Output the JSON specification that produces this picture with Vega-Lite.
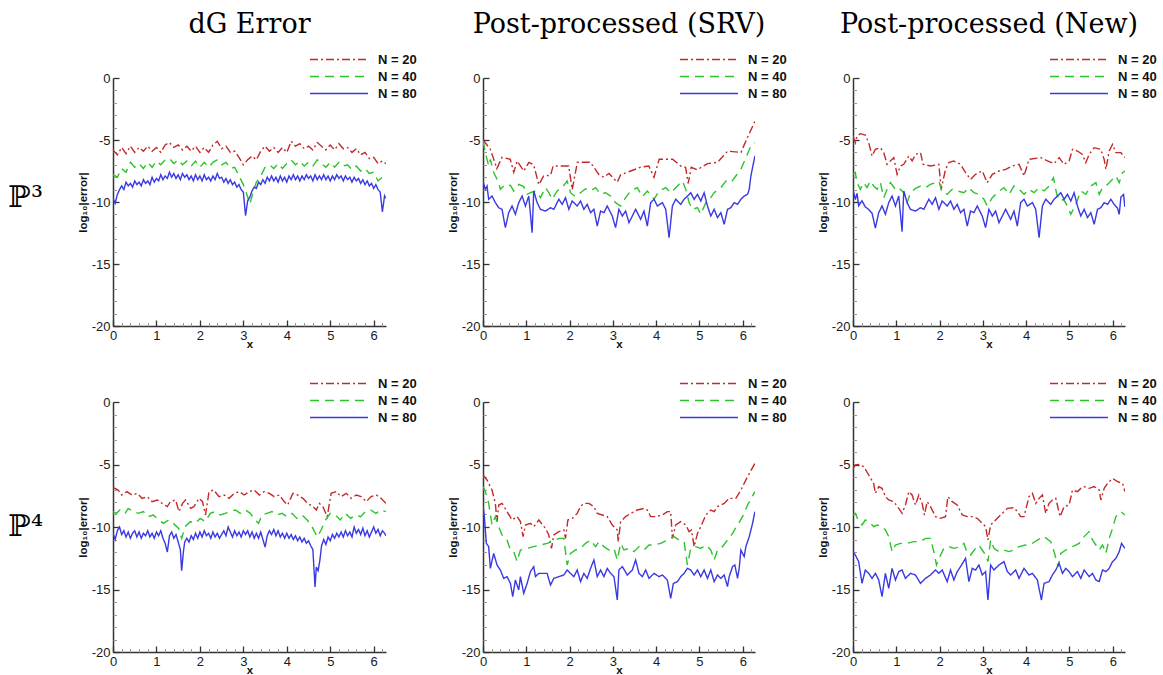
{
"$schema":"https://vega.github.io/schema/vega-lite/v6.json",
"background":"white",
"padding":{"left":8,"top":11,"right":0,"bottom":0},
"config":{
 "view":{"stroke":null},
 "axis":{"grid":false,"labelFont":"Liberation Sans","labelFontSize":13,"labelColor":"#1a1a1a","labelFlush":false,"labelPadding":9,"tickSize":-6,"tickWidth":1.3,"tickColor":"#333","domainColor":"#333","domainWidth":1.5,"titleFont":"Liberation Sans","titleFontSize":11.5,"titleFontWeight":"bold","titleColor":"#111"},
 "axisX":{"titlePadding":-4},
 "axisY":{"titlePadding":3},
 "legend":{"title":null,"symbolType":"stroke","symbolSize":3364,"symbolStrokeWidth":1.5,"clipHeight":13,"rowPadding":3,"labelOffset":9,"labelFont":"Liberation Sans","labelFontSize":13,"labelFontWeight":"bold","labelColor":"#111","padding":0},
 "title":{"font":"DejaVu Serif","fontSize":27,"fontWeight":"normal","color":"#000","offset":14},
 "concat":{"spacing":30}
},
"resolve":{"scale":{"color":"independent","strokeDash":"independent"},"legend":{"color":"independent","strokeDash":"independent"}},
"datasets":{
"p1":[
{"x":0,"N20":-5.8,"N40":-7.8,"N80":-9.7},{"x":0.05,"N80":-10.1},{"x":0.1,"N20":-6.2,"N40":-8.0,"N80":-9.4},{"x":0.15,"N80":-9.0},{"x":0.2,"N20":-5.6,"N40":-7.3,"N80":-8.7},{"x":0.25,"N80":-9.0},{"x":0.3,"N20":-6.1,"N40":-7.6,"N80":-8.4},{"x":0.35,"N80":-8.7},{"x":0.4,"N20":-5.5,"N40":-6.8,"N80":-8.5},{"x":0.45,"N80":-8.8},{"x":0.5,"N20":-6.0,"N40":-7.2,"N80":-8.3},{"x":0.55,"N80":-8.6},{"x":0.6,"N20":-5.6,"N40":-6.9,"N80":-8.4},{"x":0.65,"N80":-8.7},{"x":0.7,"N20":-5.9,"N40":-7.3,"N80":-8.2},{"x":0.75,"N80":-8.5},{"x":0.8,"N20":-5.5,"N40":-6.8,"N80":-8.3},{"x":0.85,"N80":-8.6},{"x":0.9,"N20":-5.9,"N40":-7.2,"N80":-8.0},{"x":0.95,"N80":-8.4},
{"x":1.0,"N20":-5.6,"N40":-6.7,"N80":-8.1},{"x":1.05,"N80":-8.3},{"x":1.1,"N20":-6.0,"N40":-7.0,"N80":-7.8},{"x":1.15,"N80":-8.2},{"x":1.2,"N20":-5.4,"N40":-6.6,"N80":-7.9},{"x":1.25,"N80":-8.1},{"x":1.3,"N20":-5.2,"N40":-6.5,"N80":-7.6},{"x":1.35,"N80":-8.0},{"x":1.4,"N20":-5.6,"N40":-6.9,"N80":-7.7},{"x":1.45,"N80":-8.1},{"x":1.5,"N20":-5.4,"N40":-6.6,"N80":-7.8},{"x":1.55,"N80":-8.2},{"x":1.6,"N20":-5.8,"N40":-7.0,"N80":-7.7},{"x":1.65,"N80":-8.0},{"x":1.7,"N20":-5.5,"N40":-6.7,"N80":-7.8},{"x":1.75,"N80":-8.2},{"x":1.8,"N20":-5.9,"N40":-7.1,"N80":-7.9},{"x":1.85,"N80":-8.3},{"x":1.9,"N20":-5.5,"N40":-6.7,"N80":-7.8},{"x":1.95,"N80":-8.2},
{"x":2.0,"N20":-6.0,"N40":-7.2,"N80":-7.9},{"x":2.05,"N80":-8.3},{"x":2.1,"N20":-5.6,"N40":-6.8,"N80":-7.8},{"x":2.15,"N80":-8.2},{"x":2.2,"N20":-6.0,"N40":-7.2,"N80":-8.0},{"x":2.25,"N80":-8.3},{"x":2.3,"N20":-5.4,"N40":-6.8,"N80":-7.9},{"x":2.35,"N80":-8.2},{"x":2.4,"N20":-5.1,"N40":-6.6,"N80":-7.7},{"x":2.45,"N80":-8.1},{"x":2.5,"N20":-5.7,"N40":-7.0,"N80":-8.0},{"x":2.55,"N80":-8.4},{"x":2.6,"N20":-5.5,"N40":-6.8,"N80":-8.1},{"x":2.65,"N80":-8.5},{"x":2.7,"N20":-6.0,"N40":-7.3,"N80":-8.2},{"x":2.75,"N80":-8.6},{"x":2.8,"N20":-5.9,"N40":-7.2,"N80":-8.4},{"x":2.85,"N80":-8.8},{"x":2.9,"N20":-6.4,"N40":-7.9,"N80":-8.6},{"x":2.95,"N80":-9.0},
{"x":3.0,"N20":-7.0,"N40":-8.6,"N80":-9.2},{"x":3.05,"N80":-11.1},{"x":3.1,"N20":-6.6,"N40":-9.6,"N80":-9.9},{"x":3.15,"N40":-10.2,"N80":-9.6},{"x":3.2,"N20":-6.3,"N40":-9.5,"N80":-9.1},{"x":3.25,"N80":-8.8},{"x":3.3,"N20":-6.6,"N40":-8.4,"N80":-8.9},{"x":3.35,"N80":-8.4},{"x":3.4,"N20":-5.9,"N40":-7.9,"N80":-8.6},{"x":3.45,"N80":-8.2},{"x":3.5,"N20":-5.5,"N40":-7.2,"N80":-8.5},{"x":3.55,"N80":-8.0},{"x":3.6,"N20":-5.9,"N40":-7.0,"N80":-8.3},{"x":3.65,"N80":-7.9},{"x":3.7,"N20":-5.6,"N40":-7.3,"N80":-8.3},{"x":3.75,"N80":-8.0},{"x":3.8,"N20":-6.0,"N40":-6.9,"N80":-8.4},{"x":3.85,"N80":-7.9},{"x":3.9,"N20":-5.6,"N40":-7.3,"N80":-8.3},{"x":3.95,"N80":-8.0},
{"x":4.0,"N20":-6.0,"N40":-6.9,"N80":-8.4},{"x":4.05,"N80":-7.9},{"x":4.1,"N20":-5.1,"N40":-6.6,"N80":-8.2},{"x":4.15,"N80":-7.8},{"x":4.2,"N20":-5.5,"N40":-7.0,"N80":-8.2},{"x":4.25,"N80":-7.9},{"x":4.3,"N20":-5.3,"N40":-6.7,"N80":-8.3},{"x":4.35,"N80":-7.9},{"x":4.4,"N20":-5.7,"N40":-7.1,"N80":-8.2},{"x":4.45,"N80":-7.8},{"x":4.5,"N20":-5.5,"N40":-6.8,"N80":-8.1},{"x":4.55,"N80":-7.9},{"x":4.6,"N20":-5.8,"N40":-7.1,"N80":-8.3},{"x":4.65,"N80":-7.8},{"x":4.7,"N20":-5.2,"N40":-6.6,"N80":-8.2},{"x":4.75,"N80":-7.9},{"x":4.8,"N20":-5.5,"N40":-6.9,"N80":-8.2},{"x":4.85,"N80":-7.8},{"x":4.9,"N20":-5.8,"N40":-7.2,"N80":-8.2},{"x":4.95,"N80":-7.9},
{"x":5.0,"N20":-5.4,"N40":-6.8,"N80":-8.3},{"x":5.05,"N80":-7.9},{"x":5.1,"N20":-5.8,"N40":-7.2,"N80":-8.2},{"x":5.15,"N80":-7.8},{"x":5.2,"N20":-5.3,"N40":-6.8,"N80":-8.1},{"x":5.25,"N80":-7.9},{"x":5.3,"N20":-5.7,"N40":-7.1,"N80":-8.3},{"x":5.35,"N80":-7.9},{"x":5.4,"N20":-5.6,"N40":-7.0,"N80":-8.2},{"x":5.45,"N80":-8.0},{"x":5.5,"N20":-6.0,"N40":-7.4,"N80":-8.4},{"x":5.55,"N80":-8.0},{"x":5.6,"N20":-5.7,"N40":-7.1,"N80":-8.3},{"x":5.65,"N80":-8.1},{"x":5.7,"N20":-6.2,"N40":-7.5,"N80":-8.5},{"x":5.75,"N80":-8.2},{"x":5.8,"N20":-6.0,"N40":-7.3,"N80":-8.6},{"x":5.85,"N80":-8.3},{"x":5.9,"N20":-6.5,"N40":-7.7,"N80":-8.7},{"x":5.95,"N80":-8.5},
{"x":6.0,"N20":-6.4,"N40":-7.6,"N80":-8.9},{"x":6.05,"N80":-8.6},{"x":6.1,"N20":-6.9,"N40":-8.3,"N80":-9.0},{"x":6.15,"N80":-9.2},{"x":6.2,"N20":-6.7,"N40":-8.0,"N80":-10.8},{"x":6.25,"N80":-9.5},{"x":6.28,"N20":-6.9,"N40":-8.2,"N80":-9.7}
],
"p2":[
{"x":0,"N20":-5.0},{"x":0.17,"N20":-5.75},{"x":0.32,"N20":-7.3},{"x":0.44,"N20":-6.4},{"x":0.63,"N20":-6.55},{"x":0.71,"N20":-7.6},{"x":0.79,"N20":-6.7},{"x":0.94,"N20":-7.5},{"x":1.06,"N20":-6.8},{"x":1.17,"N20":-7.0},{"x":1.29,"N20":-8.6},{"x":1.4,"N20":-7.9},{"x":1.56,"N20":-7.85},{"x":1.62,"N20":-7.1},{"x":1.98,"N20":-7.1},{"x":2.06,"N20":-9.0},{"x":2.18,"N20":-6.8},{"x":2.48,"N20":-6.8},{"x":2.68,"N20":-7.8},{"x":2.79,"N20":-8.0},{"x":2.91,"N20":-7.7},{"x":3.1,"N20":-8.4},{"x":3.18,"N20":-7.8},{"x":3.41,"N20":-7.5},{"x":3.64,"N20":-7.2},{"x":3.83,"N20":-7.1},{"x":3.95,"N20":-8.0},{"x":4.07,"N20":-6.55},{"x":4.38,"N20":-6.55},{"x":4.57,"N20":-7.1},{"x":4.68,"N20":-7.2},{"x":4.74,"N20":-8.5},{"x":4.81,"N20":-7.2},{"x":4.95,"N20":-7.4},{"x":5.19,"N20":-6.9},{"x":5.42,"N20":-6.8},{"x":5.65,"N20":-5.9},{"x":5.96,"N20":-6.0},{"x":6.07,"N20":-5.1},{"x":6.28,"N20":-3.5},
{"x":0,"N40":-5.08},{"x":0.054,"N40":-6.02},{"x":0.131,"N40":-7.1},{"x":0.17,"N40":-6.56},{"x":0.247,"N40":-7.63},{"x":0.363,"N40":-8.44},{"x":0.401,"N40":-8.98},{"x":0.517,"N40":-8.58},{"x":0.633,"N40":-8.66},{"x":0.71,"N40":-9.11},{"x":0.826,"N40":-8.58},{"x":0.941,"N40":-8.76},{"x":1.019,"N40":-9.38},{"x":1.096,"N40":-9.25},{"x":1.211,"N40":-9.11},{"x":1.327,"N40":-9.65},{"x":1.443,"N40":-8.84},{"x":1.52,"N40":-9.25},{"x":1.597,"N40":-9.78},{"x":1.713,"N40":-9.11},{"x":1.829,"N40":-8.84},{"x":1.944,"N40":-8.31},{"x":2.022,"N40":-9.25},{"x":2.137,"N40":-9.57},{"x":2.253,"N40":-9.25},{"x":2.369,"N40":-8.93},{"x":2.485,"N40":-9.11},{"x":2.6,"N40":-8.84},{"x":2.716,"N40":-9.38},{"x":2.832,"N40":-9.25},{"x":2.948,"N40":-9.52},{"x":3.063,"N40":-10.05},{"x":3.179,"N40":-10.32},{"x":3.295,"N40":-9.65},{"x":3.41,"N40":-9.11},{"x":3.565,"N40":-8.84},{"x":3.681,"N40":-9.57},{"x":3.796,"N40":-9.11},{"x":3.951,"N40":-9.78},{"x":4.066,"N40":-9.11},{"x":4.221,"N40":-8.84},{"x":4.336,"N40":-9.25},{"x":4.491,"N40":-8.71},{"x":4.606,"N40":-8.31},{"x":4.684,"N40":-8.98},{"x":4.761,"N40":-10.05},{"x":4.838,"N40":-10.59},{"x":4.954,"N40":-10.46},{"x":5.031,"N40":-10.99},{"x":5.147,"N40":-10.05},{"x":5.262,"N40":-9.65},{"x":5.34,"N40":-9.25},{"x":5.494,"N40":-8.84},{"x":5.61,"N40":-8.31},{"x":5.725,"N40":-8.44},{"x":5.841,"N40":-7.9},{"x":5.957,"N40":-7.37},{"x":6.073,"N40":-6.42},{"x":6.188,"N40":-5.48},{"x":6.281,"N40":-5.22},
{"x":0,"N80":-8.31},{"x":0.054,"N80":-8.98},{"x":0.093,"N80":-8.71},{"x":0.131,"N80":-9.78},{"x":0.208,"N80":-9.52},{"x":0.285,"N80":-10.05},{"x":0.363,"N80":-10.46},{"x":0.44,"N80":-10.59},{"x":0.517,"N80":-12.07},{"x":0.594,"N80":-10.86},{"x":0.671,"N80":-10.32},{"x":0.748,"N80":-10.99},{"x":0.826,"N80":-10.05},{"x":0.903,"N80":-9.52},{"x":0.98,"N80":-10.32},{"x":1.057,"N80":-9.52},{"x":1.134,"N80":-12.47},{"x":1.173,"N80":-9.11},{"x":1.25,"N80":-10.05},{"x":1.327,"N80":-10.59},{"x":1.443,"N80":-10.73},{"x":1.559,"N80":-10.46},{"x":1.636,"N80":-10.59},{"x":1.752,"N80":-9.78},{"x":1.829,"N80":-10.19},{"x":1.906,"N80":-9.65},{"x":1.983,"N80":-10.59},{"x":2.06,"N80":-9.92},{"x":2.176,"N80":-10.32},{"x":2.253,"N80":-9.92},{"x":2.33,"N80":-10.59},{"x":2.407,"N80":-10.19},{"x":2.485,"N80":-10.86},{"x":2.562,"N80":-10.59},{"x":2.639,"N80":-11.94},{"x":2.716,"N80":-10.73},{"x":2.793,"N80":-10.86},{"x":2.87,"N80":-10.32},{"x":2.986,"N80":-11.13},{"x":3.063,"N80":-12.07},{"x":3.14,"N80":-10.59},{"x":3.218,"N80":-11.13},{"x":3.295,"N80":-10.73},{"x":3.372,"N80":-11.67},{"x":3.449,"N80":-11.13},{"x":3.526,"N80":-10.59},{"x":3.642,"N80":-11.4},{"x":3.719,"N80":-10.73},{"x":3.796,"N80":-11.94},{"x":3.873,"N80":-10.05},{"x":3.951,"N80":-9.78},{"x":4.028,"N80":-10.32},{"x":4.144,"N80":-10.05},{"x":4.221,"N80":-10.59},{"x":4.298,"N80":-12.88},{"x":4.375,"N80":-10.32},{"x":4.452,"N80":-9.78},{"x":4.568,"N80":-10.19},{"x":4.645,"N80":-9.78},{"x":4.722,"N80":-9.52},{"x":4.799,"N80":-9.25},{"x":4.877,"N80":-9.78},{"x":4.954,"N80":-9.38},{"x":5.031,"N80":-9.92},{"x":5.108,"N80":-9.25},{"x":5.185,"N80":-10.32},{"x":5.262,"N80":-11.13},{"x":5.34,"N80":-10.59},{"x":5.417,"N80":-11.26},{"x":5.494,"N80":-10.86},{"x":5.571,"N80":-11.8},{"x":5.648,"N80":-10.59},{"x":5.725,"N80":-10.46},{"x":5.802,"N80":-10.05},{"x":5.88,"N80":-10.19},{"x":5.957,"N80":-9.78},{"x":6.034,"N80":-9.52},{"x":6.111,"N80":-9.38},{"x":6.15,"N80":-8.98},{"x":6.188,"N80":-7.9},{"x":6.281,"N80":-6.29}
],
"p3":[
{"x":0,"N20":-4.68},{"x":0.054,"N20":-5.22},{"x":0.093,"N20":-4.68},{"x":0.17,"N20":-4.49},{"x":0.285,"N20":-4.6},{"x":0.363,"N20":-5.22},{"x":0.44,"N20":-6.29},{"x":0.517,"N20":-5.75},{"x":0.633,"N20":-5.62},{"x":0.71,"N20":-6.02},{"x":0.787,"N20":-6.96},{"x":0.865,"N20":-6.69},{"x":0.941,"N20":-6.42},{"x":1.019,"N20":-7.77},{"x":1.096,"N20":-7.1},{"x":1.173,"N20":-6.96},{"x":1.289,"N20":-6.29},{"x":1.366,"N20":-6.69},{"x":1.443,"N20":-6.16},{"x":1.559,"N20":-6.02},{"x":1.62,"N20":-6.96},{"x":1.79,"N20":-7.1},{"x":1.983,"N20":-6.96},{"x":2.037,"N20":-8.98},{"x":2.137,"N20":-7.37},{"x":2.214,"N20":-6.83},{"x":2.33,"N20":-6.69},{"x":2.485,"N20":-6.96},{"x":2.6,"N20":-7.63},{"x":2.716,"N20":-8.17},{"x":2.832,"N20":-7.77},{"x":2.986,"N20":-7.5},{"x":3.1,"N20":-8.44},{"x":3.218,"N20":-7.77},{"x":3.372,"N20":-7.5},{"x":3.526,"N20":-7.37},{"x":3.681,"N20":-7.1},{"x":3.835,"N20":-6.96},{"x":3.951,"N20":-7.9},{"x":4.066,"N20":-6.56},{"x":4.336,"N20":-6.42},{"x":4.491,"N20":-6.69},{"x":4.645,"N20":-6.91},{"x":4.761,"N20":-6.42},{"x":4.877,"N20":-6.96},{"x":4.992,"N20":-6.69},{"x":5.07,"N20":-5.75},{"x":5.185,"N20":-5.89},{"x":5.3,"N20":-6.16},{"x":5.378,"N20":-6.83},{"x":5.455,"N20":-6.16},{"x":5.571,"N20":-5.62},{"x":5.725,"N20":-5.75},{"x":5.802,"N20":-6.56},{"x":5.841,"N20":-7.37},{"x":5.918,"N20":-5.89},{"x":5.995,"N20":-5.35},{"x":6.073,"N20":-6.02},{"x":6.188,"N20":-6.02},{"x":6.281,"N20":-6.42},
{"x":0,"N40":-7.77},{"x":0.054,"N40":-7.63},{"x":0.093,"N40":-8.44},{"x":0.17,"N40":-8.98},{"x":0.247,"N40":-8.44},{"x":0.324,"N40":-8.84},{"x":0.401,"N40":-8.31},{"x":0.478,"N40":-8.71},{"x":0.556,"N40":-8.98},{"x":0.633,"N40":-8.44},{"x":0.71,"N40":-9.65},{"x":0.787,"N40":-8.98},{"x":0.865,"N40":-8.44},{"x":0.98,"N40":-8.98},{"x":1.057,"N40":-8.84},{"x":1.173,"N40":-9.25},{"x":1.25,"N40":-10.05},{"x":1.327,"N40":-9.25},{"x":1.443,"N40":-8.9},{"x":1.559,"N40":-8.71},{"x":1.674,"N40":-8.84},{"x":1.79,"N40":-8.58},{"x":1.906,"N40":-8.44},{"x":1.983,"N40":-8.31},{"x":2.06,"N40":-9.25},{"x":2.176,"N40":-9.38},{"x":2.292,"N40":-8.98},{"x":2.407,"N40":-9.11},{"x":2.562,"N40":-9.25},{"x":2.677,"N40":-8.84},{"x":2.793,"N40":-9.25},{"x":2.909,"N40":-9.38},{"x":3.025,"N40":-9.78},{"x":3.1,"N40":-10.32},{"x":3.218,"N40":-9.65},{"x":3.333,"N40":-9.25},{"x":3.488,"N40":-8.84},{"x":3.603,"N40":-9.38},{"x":3.719,"N40":-8.71},{"x":3.835,"N40":-8.98},{"x":3.951,"N40":-9.38},{"x":4.066,"N40":-8.98},{"x":4.182,"N40":-9.25},{"x":4.298,"N40":-8.84},{"x":4.414,"N40":-9.11},{"x":4.529,"N40":-8.71},{"x":4.63,"N40":-8.04},{"x":4.707,"N40":-9.38},{"x":4.784,"N40":-9.92},{"x":4.861,"N40":-9.78},{"x":4.954,"N40":-10.32},{"x":5.031,"N40":-10.99},{"x":5.147,"N40":-10.19},{"x":5.262,"N40":-9.11},{"x":5.378,"N40":-9.38},{"x":5.494,"N40":-8.71},{"x":5.61,"N40":-8.44},{"x":5.687,"N40":-9.38},{"x":5.764,"N40":-8.84},{"x":5.88,"N40":-8.58},{"x":5.995,"N40":-8.17},{"x":6.073,"N40":-7.9},{"x":6.15,"N40":-8.44},{"x":6.227,"N40":-7.63},{"x":6.281,"N40":-7.5},
{"x":0,"N80":-9.0},{"x":0.054,"N80":-9.8},{"x":0.093,"N80":-9.3},{"x":0.131,"N80":-10.3},{"x":0.208,"N80":-9.9},{"x":0.285,"N80":-10.4},{"x":0.363,"N80":-10.6},{"x":0.44,"N80":-10.9},{"x":0.517,"N80":-12.1},{"x":0.594,"N80":-10.86},{"x":0.671,"N80":-10.32},{"x":0.748,"N80":-10.99},{"x":0.826,"N80":-10.05},{"x":0.903,"N80":-9.52},{"x":0.98,"N80":-10.32},{"x":1.057,"N80":-9.52},{"x":1.134,"N80":-12.4},{"x":1.173,"N80":-9.11},{"x":1.25,"N80":-10.05},{"x":1.327,"N80":-10.59},{"x":1.443,"N80":-10.73},{"x":1.559,"N80":-10.46},{"x":1.636,"N80":-10.59},{"x":1.752,"N80":-9.78},{"x":1.829,"N80":-10.19},{"x":1.906,"N80":-9.65},{"x":1.983,"N80":-10.59},{"x":2.06,"N80":-9.92},{"x":2.176,"N80":-10.32},{"x":2.253,"N80":-9.92},{"x":2.33,"N80":-10.59},{"x":2.407,"N80":-10.19},{"x":2.485,"N80":-10.86},{"x":2.562,"N80":-10.59},{"x":2.639,"N80":-11.94},{"x":2.716,"N80":-10.73},{"x":2.793,"N80":-10.86},{"x":2.87,"N80":-10.32},{"x":2.986,"N80":-11.13},{"x":3.063,"N80":-12.07},{"x":3.14,"N80":-10.59},{"x":3.218,"N80":-11.13},{"x":3.295,"N80":-10.73},{"x":3.372,"N80":-11.67},{"x":3.449,"N80":-11.13},{"x":3.526,"N80":-10.59},{"x":3.642,"N80":-11.4},{"x":3.719,"N80":-10.73},{"x":3.796,"N80":-11.94},{"x":3.873,"N80":-10.05},{"x":3.951,"N80":-9.78},{"x":4.028,"N80":-10.32},{"x":4.144,"N80":-10.05},{"x":4.221,"N80":-10.59},{"x":4.298,"N80":-12.88},{"x":4.375,"N80":-10.32},{"x":4.452,"N80":-9.78},{"x":4.568,"N80":-10.19},{"x":4.645,"N80":-9.78},{"x":4.722,"N80":-9.52},{"x":4.799,"N80":-9.25},{"x":4.877,"N80":-9.78},{"x":4.954,"N80":-9.38},{"x":5.031,"N80":-9.92},{"x":5.108,"N80":-9.25},{"x":5.185,"N80":-10.32},{"x":5.262,"N80":-11.13},{"x":5.34,"N80":-10.59},{"x":5.417,"N80":-11.26},{"x":5.494,"N80":-10.86},{"x":5.571,"N80":-11.8},{"x":5.648,"N80":-10.59},{"x":5.725,"N80":-10.46},{"x":5.802,"N80":-10.05},{"x":5.88,"N80":-10.19},{"x":5.957,"N80":-9.78},{"x":6.034,"N80":-10.2},{"x":6.111,"N80":-10.5},{"x":6.15,"N80":-11.0},{"x":6.188,"N80":-9.6},{"x":6.25,"N80":-9.4},{"x":6.281,"N80":-10.4}
],
"p4":[
{"x":0,"N20":-6.83},{"x":0.12,"N20":-7.04},{"x":0.2,"N20":-7.44},{"x":0.32,"N20":-7.17},{"x":0.44,"N20":-7.44},{"x":0.56,"N20":-7.31},{"x":0.67,"N20":-7.71},{"x":0.79,"N20":-7.57},{"x":0.9,"N20":-7.97},{"x":1.02,"N20":-7.84},{"x":1.13,"N20":-8.11},{"x":1.25,"N20":-8.37},{"x":1.32,"N20":-7.97},{"x":1.44,"N20":-7.84},{"x":1.52,"N20":-8.77},{"x":1.6,"N20":-8.11},{"x":1.67,"N20":-7.84},{"x":1.79,"N20":-8.51},{"x":1.86,"N20":-8.37},{"x":1.98,"N20":-7.71},{"x":2.06,"N20":-7.97},{"x":2.13,"N20":-9.04},{"x":2.21,"N20":-7.17},{"x":2.32,"N20":-7.04},{"x":2.44,"N20":-7.57},{"x":2.56,"N20":-7.44},{"x":2.67,"N20":-7.71},{"x":2.79,"N20":-7.31},{"x":2.91,"N20":-7.17},{"x":3.02,"N20":-7.44},{"x":3.14,"N20":-7.17},{"x":3.25,"N20":-7.04},{"x":3.37,"N20":-7.44},{"x":3.48,"N20":-7.17},{"x":3.6,"N20":-7.31},{"x":3.71,"N20":-7.57},{"x":3.83,"N20":-7.44},{"x":3.94,"N20":-7.97},{"x":4.02,"N20":-8.24},{"x":4.14,"N20":-7.31},{"x":4.25,"N20":-7.44},{"x":4.37,"N20":-7.71},{"x":4.48,"N20":-8.11},{"x":4.6,"N20":-8.37},{"x":4.68,"N20":-8.64},{"x":4.75,"N20":-8.11},{"x":4.83,"N20":-8.37},{"x":4.93,"N20":-9.17},{"x":5.02,"N20":-7.31},{"x":5.14,"N20":-7.17},{"x":5.25,"N20":-7.57},{"x":5.37,"N20":-7.31},{"x":5.48,"N20":-7.71},{"x":5.6,"N20":-7.44},{"x":5.71,"N20":-7.57},{"x":5.83,"N20":-7.97},{"x":5.94,"N20":-7.57},{"x":6.06,"N20":-7.44},{"x":6.17,"N20":-7.71},{"x":6.28,"N20":-8.11},
{"x":0,"N40":-8.77},{"x":0.08,"N40":-8.91},{"x":0.16,"N40":-8.64},{"x":0.28,"N40":-8.91},{"x":0.35,"N40":-8.51},{"x":0.47,"N40":-8.77},{"x":0.58,"N40":-8.91},{"x":0.7,"N40":-8.77},{"x":0.81,"N40":-9.17},{"x":0.93,"N40":-9.04},{"x":1.05,"N40":-9.44},{"x":1.16,"N40":-9.71},{"x":1.28,"N40":-9.44},{"x":1.39,"N40":-9.71},{"x":1.51,"N40":-10.11},{"x":1.58,"N40":-10.91},{"x":1.66,"N40":-9.97},{"x":1.78,"N40":-9.57},{"x":1.89,"N40":-9.71},{"x":2.01,"N40":-9.31},{"x":2.12,"N40":-9.57},{"x":2.24,"N40":-8.91},{"x":2.35,"N40":-8.77},{"x":2.47,"N40":-9.04},{"x":2.58,"N40":-8.91},{"x":2.7,"N40":-8.77},{"x":2.82,"N40":-8.64},{"x":2.93,"N40":-8.91},{"x":3.05,"N40":-8.64},{"x":3.16,"N40":-8.91},{"x":3.27,"N40":-9.44},{"x":3.35,"N40":-9.71},{"x":3.43,"N40":-9.04},{"x":3.54,"N40":-8.91},{"x":3.66,"N40":-8.77},{"x":3.77,"N40":-9.04},{"x":3.89,"N40":-8.91},{"x":4.0,"N40":-9.17},{"x":4.12,"N40":-8.91},{"x":4.23,"N40":-9.31},{"x":4.35,"N40":-9.04},{"x":4.47,"N40":-9.44},{"x":4.58,"N40":-9.97},{"x":4.7,"N40":-10.8},{"x":4.79,"N40":-10.24},{"x":4.89,"N40":-9.44},{"x":5.0,"N40":-8.91},{"x":5.12,"N40":-9.04},{"x":5.23,"N40":-9.44},{"x":5.35,"N40":-8.91},{"x":5.47,"N40":-9.31},{"x":5.58,"N40":-9.04},{"x":5.7,"N40":-9.17},{"x":5.81,"N40":-8.77},{"x":5.93,"N40":-8.64},{"x":6.05,"N40":-8.91},{"x":6.16,"N40":-8.64},{"x":6.28,"N40":-8.77},
{"x":0,"N80":-10.5},{"x":0.05,"N80":-11.0},{"x":0.1,"N80":-10.3},{"x":0.15,"N80":-10.0},{"x":0.2,"N80":-10.6},{"x":0.25,"N80":-10.3},{"x":0.3,"N80":-10.8},{"x":0.35,"N80":-10.4},{"x":0.4,"N80":-10.9},{"x":0.45,"N80":-10.5},{"x":0.5,"N80":-10.3},{"x":0.55,"N80":-10.8},{"x":0.6,"N80":-10.4},{"x":0.65,"N80":-10.9},{"x":0.7,"N80":-10.5},{"x":0.75,"N80":-10.7},{"x":0.8,"N80":-10.3},{"x":0.85,"N80":-10.8},{"x":0.9,"N80":-10.5},{"x":0.95,"N80":-10.9},{"x":1.0,"N80":-10.4},{"x":1.05,"N80":-10.7},{"x":1.1,"N80":-10.3},{"x":1.15,"N80":-10.9},{"x":1.2,"N80":-11.3},{"x":1.25,"N80":-12.0},{"x":1.3,"N80":-10.7},{"x":1.35,"N80":-10.4},{"x":1.4,"N80":-10.9},{"x":1.45,"N80":-10.6},{"x":1.5,"N80":-11.2},{"x":1.55,"N80":-11.8},{"x":1.58,"N80":-13.5},{"x":1.62,"N80":-12.0},{"x":1.65,"N80":-11.2},{"x":1.7,"N80":-10.9},{"x":1.75,"N80":-11.2},{"x":1.8,"N80":-10.7},{"x":1.85,"N80":-11.0},{"x":1.9,"N80":-10.5},{"x":1.95,"N80":-10.9},{"x":2.0,"N80":-10.4},{"x":2.05,"N80":-10.8},{"x":2.1,"N80":-10.3},{"x":2.15,"N80":-10.7},{"x":2.2,"N80":-10.5},{"x":2.25,"N80":-10.9},{"x":2.3,"N80":-10.4},{"x":2.35,"N80":-10.8},{"x":2.4,"N80":-10.5},{"x":2.45,"N80":-10.9},{"x":2.5,"N80":-10.6},{"x":2.55,"N80":-10.3},{"x":2.6,"N80":-10.7},{"x":2.65,"N80":-10.0},{"x":2.7,"N80":-10.4},{"x":2.75,"N80":-10.8},{"x":2.8,"N80":-10.3},{"x":2.85,"N80":-10.7},{"x":2.9,"N80":-10.4},{"x":2.95,"N80":-10.8},{"x":3.0,"N80":-10.3},{"x":3.05,"N80":-10.6},{"x":3.1,"N80":-10.3},{"x":3.15,"N80":-10.8},{"x":3.2,"N80":-10.4},{"x":3.25,"N80":-10.9},{"x":3.3,"N80":-10.5},{"x":3.35,"N80":-10.9},{"x":3.4,"N80":-10.4},{"x":3.45,"N80":-11.0},{"x":3.5,"N80":-11.6},{"x":3.55,"N80":-10.7},{"x":3.6,"N80":-10.3},{"x":3.65,"N80":-10.6},{"x":3.7,"N80":-10.2},{"x":3.75,"N80":-10.7},{"x":3.8,"N80":-10.3},{"x":3.85,"N80":-10.8},{"x":3.9,"N80":-10.5},{"x":3.95,"N80":-10.9},{"x":4.0,"N80":-10.5},{"x":4.05,"N80":-10.9},{"x":4.1,"N80":-10.6},{"x":4.15,"N80":-11.0},{"x":4.2,"N80":-10.7},{"x":4.25,"N80":-11.1},{"x":4.3,"N80":-10.8},{"x":4.35,"N80":-11.2},{"x":4.4,"N80":-10.9},{"x":4.45,"N80":-11.3},{"x":4.5,"N80":-11.1},{"x":4.55,"N80":-11.5},{"x":4.6,"N80":-11.8},{"x":4.65,"N80":-14.8},{"x":4.68,"N80":-13.2},{"x":4.72,"N80":-13.5},{"x":4.76,"N80":-12.7},{"x":4.8,"N80":-11.5},{"x":4.85,"N80":-11.0},{"x":4.9,"N80":-11.4},{"x":4.95,"N80":-10.8},{"x":5.0,"N80":-11.1},{"x":5.05,"N80":-10.6},{"x":5.1,"N80":-10.9},{"x":5.15,"N80":-10.5},{"x":5.2,"N80":-10.8},{"x":5.25,"N80":-10.4},{"x":5.3,"N80":-10.8},{"x":5.35,"N80":-10.3},{"x":5.4,"N80":-10.7},{"x":5.45,"N80":-10.4},{"x":5.5,"N80":-10.8},{"x":5.55,"N80":-10.0},{"x":5.6,"N80":-10.5},{"x":5.65,"N80":-10.2},{"x":5.7,"N80":-10.6},{"x":5.75,"N80":-10.1},{"x":5.8,"N80":-10.7},{"x":5.85,"N80":-10.3},{"x":5.9,"N80":-10.8},{"x":5.95,"N80":-10.4},{"x":6.0,"N80":-10.0},{"x":6.05,"N80":-10.5},{"x":6.1,"N80":-10.2},{"x":6.15,"N80":-10.7},{"x":6.2,"N80":-10.3},{"x":6.25,"N80":-10.5},{"x":6.28,"N80":-10.7}
],
"p5":[
{"x":0,"N20":-5.84},{"x":0.093,"N20":-6.24},{"x":0.208,"N20":-7.04},{"x":0.285,"N20":-8.11},{"x":0.324,"N20":-9.57},{"x":0.363,"N20":-8.24},{"x":0.44,"N20":-8.11},{"x":0.556,"N20":-8.77},{"x":0.671,"N20":-9.44},{"x":0.787,"N20":-9.17},{"x":0.864,"N20":-9.57},{"x":0.926,"N20":-10.77},{"x":0.98,"N20":-9.84},{"x":1.096,"N20":-9.71},{"x":1.173,"N20":-9.97},{"x":1.289,"N20":-9.44},{"x":1.443,"N20":-10.11},{"x":1.52,"N20":-10.64},{"x":1.582,"N20":-11.71},{"x":1.636,"N20":-10.64},{"x":1.752,"N20":-10.37},{"x":1.867,"N20":-10.24},{"x":1.906,"N20":-10.91},{"x":1.96,"N20":-9.44},{"x":2.06,"N20":-9.31},{"x":2.176,"N20":-8.91},{"x":2.253,"N20":-8.37},{"x":2.33,"N20":-8.11},{"x":2.446,"N20":-8.11},{"x":2.562,"N20":-8.37},{"x":2.639,"N20":-8.91},{"x":2.755,"N20":-9.04},{"x":2.87,"N20":-9.17},{"x":2.986,"N20":-9.84},{"x":3.102,"N20":-10.24},{"x":3.125,"N20":-11.2},{"x":3.179,"N20":-9.57},{"x":3.295,"N20":-9.17},{"x":3.41,"N20":-8.91},{"x":3.565,"N20":-8.64},{"x":3.719,"N20":-8.51},{"x":3.796,"N20":-8.64},{"x":3.873,"N20":-9.17},{"x":3.989,"N20":-9.17},{"x":4.144,"N20":-9.04},{"x":4.259,"N20":-8.77},{"x":4.336,"N20":-8.77},{"x":4.375,"N20":-10.91},{"x":4.452,"N20":-9.84},{"x":4.568,"N20":-9.57},{"x":4.684,"N20":-9.84},{"x":4.761,"N20":-10.37},{"x":4.815,"N20":-10.24},{"x":4.877,"N20":-11.57},{"x":4.954,"N20":-10.51},{"x":5.031,"N20":-9.97},{"x":5.147,"N20":-9.04},{"x":5.262,"N20":-8.64},{"x":5.34,"N20":-8.77},{"x":5.417,"N20":-8.37},{"x":5.571,"N20":-8.11},{"x":5.687,"N20":-7.71},{"x":5.841,"N20":-7.71},{"x":5.957,"N20":-7.04},{"x":6.111,"N20":-5.97},{"x":6.281,"N20":-4.91},
{"x":0,"N40":-6.77},{"x":0.054,"N40":-7.17},{"x":0.131,"N40":-8.11},{"x":0.208,"N40":-9.84},{"x":0.285,"N40":-9.17},{"x":0.363,"N40":-9.97},{"x":0.44,"N40":-10.64},{"x":0.556,"N40":-11.04},{"x":0.633,"N40":-11.84},{"x":0.71,"N40":-11.97},{"x":0.787,"N40":-12.77},{"x":0.864,"N40":-11.84},{"x":1.019,"N40":-11.71},{"x":1.173,"N40":-11.57},{"x":1.327,"N40":-11.44},{"x":1.481,"N40":-11.31},{"x":1.597,"N40":-11.17},{"x":1.752,"N40":-10.91},{"x":1.867,"N40":-10.91},{"x":1.944,"N40":-13.04},{"x":2.022,"N40":-12.11},{"x":2.137,"N40":-11.84},{"x":2.253,"N40":-11.71},{"x":2.369,"N40":-11.31},{"x":2.485,"N40":-11.04},{"x":2.6,"N40":-11.57},{"x":2.677,"N40":-11.17},{"x":2.793,"N40":-11.57},{"x":2.909,"N40":-11.84},{"x":3.025,"N40":-11.71},{"x":3.102,"N40":-12.64},{"x":3.179,"N40":-11.31},{"x":3.256,"N40":-11.84},{"x":3.372,"N40":-11.71},{"x":3.488,"N40":-11.97},{"x":3.603,"N40":-11.57},{"x":3.719,"N40":-11.84},{"x":3.835,"N40":-11.44},{"x":3.951,"N40":-11.44},{"x":4.105,"N40":-11.31},{"x":4.259,"N40":-11.04},{"x":4.414,"N40":-10.77},{"x":4.529,"N40":-11.04},{"x":4.645,"N40":-11.17},{"x":4.722,"N40":-13.04},{"x":4.799,"N40":-11.71},{"x":4.915,"N40":-11.57},{"x":5.031,"N40":-11.71},{"x":5.147,"N40":-11.44},{"x":5.262,"N40":-11.84},{"x":5.34,"N40":-12.64},{"x":5.417,"N40":-11.84},{"x":5.532,"N40":-11.57},{"x":5.648,"N40":-11.04},{"x":5.764,"N40":-10.51},{"x":5.88,"N40":-9.84},{"x":5.995,"N40":-9.17},{"x":6.111,"N40":-8.24},{"x":6.281,"N40":-7.17},
{"x":0,"N80":-8.24},{"x":0.031,"N80":-9.17},{"x":0.077,"N80":-11.31},{"x":0.131,"N80":-11.57},{"x":0.17,"N80":-13.31},{"x":0.247,"N80":-12.11},{"x":0.324,"N80":-13.04},{"x":0.401,"N80":-13.44},{"x":0.478,"N80":-14.11},{"x":0.556,"N80":-13.97},{"x":0.633,"N80":-14.51},{"x":0.687,"N80":-15.57},{"x":0.748,"N80":-14.24},{"x":0.826,"N80":-15.04},{"x":0.864,"N80":-13.97},{"x":0.941,"N80":-15.31},{"x":1.019,"N80":-14.51},{"x":1.096,"N80":-13.57},{"x":1.173,"N80":-13.17},{"x":1.211,"N80":-13.97},{"x":1.289,"N80":-13.71},{"x":1.404,"N80":-13.71},{"x":1.481,"N80":-13.71},{"x":1.559,"N80":-14.64},{"x":1.636,"N80":-14.11},{"x":1.752,"N80":-13.97},{"x":1.867,"N80":-13.84},{"x":1.944,"N80":-13.44},{"x":2.022,"N80":-13.71},{"x":2.099,"N80":-13.97},{"x":2.176,"N80":-13.44},{"x":2.253,"N80":-14.37},{"x":2.33,"N80":-13.71},{"x":2.407,"N80":-14.11},{"x":2.485,"N80":-13.31},{"x":2.562,"N80":-12.64},{"x":2.639,"N80":-13.97},{"x":2.716,"N80":-13.44},{"x":2.793,"N80":-13.97},{"x":2.87,"N80":-13.31},{"x":2.948,"N80":-13.71},{"x":3.025,"N80":-13.97},{"x":3.102,"N80":-15.84},{"x":3.14,"N80":-13.44},{"x":3.218,"N80":-13.17},{"x":3.333,"N80":-13.84},{"x":3.449,"N80":-13.44},{"x":3.526,"N80":-12.64},{"x":3.603,"N80":-13.71},{"x":3.681,"N80":-13.97},{"x":3.758,"N80":-13.44},{"x":3.835,"N80":-14.11},{"x":3.951,"N80":-13.71},{"x":4.066,"N80":-13.97},{"x":4.144,"N80":-13.84},{"x":4.259,"N80":-14.24},{"x":4.336,"N80":-15.71},{"x":4.398,"N80":-14.51},{"x":4.491,"N80":-14.37},{"x":4.568,"N80":-13.97},{"x":4.645,"N80":-13.71},{"x":4.722,"N80":-13.31},{"x":4.799,"N80":-13.44},{"x":4.877,"N80":-13.84},{"x":4.954,"N80":-13.44},{"x":5.031,"N80":-13.97},{"x":5.108,"N80":-13.44},{"x":5.185,"N80":-14.11},{"x":5.262,"N80":-13.44},{"x":5.34,"N80":-14.37},{"x":5.417,"N80":-13.84},{"x":5.494,"N80":-14.11},{"x":5.571,"N80":-13.84},{"x":5.648,"N80":-14.77},{"x":5.687,"N80":-13.97},{"x":5.764,"N80":-13.17},{"x":5.818,"N80":-13.04},{"x":5.88,"N80":-14.11},{"x":5.918,"N80":-13.31},{"x":5.957,"N80":-11.84},{"x":6.034,"N80":-12.37},{"x":6.073,"N80":-11.57},{"x":6.15,"N80":-10.77},{"x":6.227,"N80":-9.71},{"x":6.281,"N80":-8.77}
],
"p6":[
{"x":0,"N20":-5.31},{"x":0.054,"N20":-5.04},{"x":0.131,"N20":-4.99},{"x":0.247,"N20":-5.17},{"x":0.363,"N20":-5.84},{"x":0.478,"N20":-6.51},{"x":0.517,"N20":-7.31},{"x":0.594,"N20":-6.77},{"x":0.671,"N20":-6.91},{"x":0.748,"N20":-7.57},{"x":0.826,"N20":-7.84},{"x":0.941,"N20":-7.97},{"x":1.057,"N20":-8.51},{"x":1.134,"N20":-8.91},{"x":1.211,"N20":-8.24},{"x":1.289,"N20":-7.17},{"x":1.366,"N20":-7.44},{"x":1.443,"N20":-8.24},{"x":1.52,"N20":-7.44},{"x":1.597,"N20":-8.11},{"x":1.651,"N20":-9.04},{"x":1.713,"N20":-7.97},{"x":1.79,"N20":-8.37},{"x":1.906,"N20":-9.17},{"x":2.022,"N20":-9.31},{"x":2.137,"N20":-9.17},{"x":2.191,"N20":-7.57},{"x":2.292,"N20":-7.97},{"x":2.407,"N20":-8.24},{"x":2.523,"N20":-9.04},{"x":2.639,"N20":-9.17},{"x":2.755,"N20":-9.17},{"x":2.87,"N20":-9.31},{"x":2.986,"N20":-9.71},{"x":3.063,"N20":-9.97},{"x":3.117,"N20":-11.04},{"x":3.179,"N20":-9.84},{"x":3.295,"N20":-9.44},{"x":3.41,"N20":-9.04},{"x":3.565,"N20":-8.51},{"x":3.719,"N20":-8.45},{"x":3.796,"N20":-8.77},{"x":3.873,"N20":-9.17},{"x":3.951,"N20":-9.17},{"x":4.066,"N20":-7.57},{"x":4.144,"N20":-7.31},{"x":4.221,"N20":-8.11},{"x":4.298,"N20":-7.71},{"x":4.375,"N20":-7.44},{"x":4.452,"N20":-8.91},{"x":4.529,"N20":-8.11},{"x":4.606,"N20":-7.84},{"x":4.684,"N20":-7.71},{"x":4.784,"N20":-9.17},{"x":4.877,"N20":-8.37},{"x":4.992,"N20":-8.24},{"x":5.07,"N20":-7.04},{"x":5.185,"N20":-7.17},{"x":5.262,"N20":-6.91},{"x":5.34,"N20":-6.77},{"x":5.455,"N20":-6.91},{"x":5.571,"N20":-6.77},{"x":5.687,"N20":-7.04},{"x":5.725,"N20":-7.84},{"x":5.802,"N20":-6.91},{"x":5.88,"N20":-6.51},{"x":5.995,"N20":-6.11},{"x":6.111,"N20":-6.37},{"x":6.227,"N20":-6.51},{"x":6.281,"N20":-7.17},
{"x":0,"N40":-9.04},{"x":0.054,"N40":-8.91},{"x":0.131,"N40":-9.57},{"x":0.208,"N40":-9.84},{"x":0.285,"N40":-9.44},{"x":0.363,"N40":-9.57},{"x":0.478,"N40":-9.97},{"x":0.556,"N40":-9.84},{"x":0.671,"N40":-9.97},{"x":0.748,"N40":-10.24},{"x":0.826,"N40":-10.77},{"x":0.903,"N40":-11.97},{"x":0.98,"N40":-11.44},{"x":1.096,"N40":-11.31},{"x":1.25,"N40":-11.31},{"x":1.404,"N40":-11.17},{"x":1.559,"N40":-11.17},{"x":1.674,"N40":-10.91},{"x":1.79,"N40":-10.91},{"x":1.867,"N40":-11.97},{"x":1.929,"N40":-13.04},{"x":2.006,"N40":-12.37},{"x":2.099,"N40":-11.71},{"x":2.214,"N40":-11.57},{"x":2.33,"N40":-11.71},{"x":2.485,"N40":-11.57},{"x":2.562,"N40":-11.31},{"x":2.639,"N40":-12.11},{"x":2.716,"N40":-12.24},{"x":2.832,"N40":-11.71},{"x":2.909,"N40":-11.44},{"x":2.986,"N40":-11.84},{"x":3.063,"N40":-12.24},{"x":3.117,"N40":-12.77},{"x":3.179,"N40":-11.04},{"x":3.256,"N40":-11.71},{"x":3.372,"N40":-11.97},{"x":3.488,"N40":-11.84},{"x":3.603,"N40":-11.97},{"x":3.719,"N40":-11.84},{"x":3.835,"N40":-11.57},{"x":3.989,"N40":-11.44},{"x":4.144,"N40":-11.31},{"x":4.259,"N40":-11.04},{"x":4.414,"N40":-10.77},{"x":4.568,"N40":-11.17},{"x":4.645,"N40":-11.97},{"x":4.738,"N40":-13.17},{"x":4.799,"N40":-12.11},{"x":4.915,"N40":-11.84},{"x":5.07,"N40":-11.57},{"x":5.224,"N40":-11.31},{"x":5.34,"N40":-10.77},{"x":5.455,"N40":-10.37},{"x":5.532,"N40":-11.04},{"x":5.61,"N40":-11.44},{"x":5.687,"N40":-11.84},{"x":5.764,"N40":-11.44},{"x":5.841,"N40":-12.11},{"x":5.918,"N40":-10.91},{"x":5.995,"N40":-10.11},{"x":6.073,"N40":-9.17},{"x":6.188,"N40":-8.77},{"x":6.281,"N40":-9.04},
{"x":0,"N80":-11.97},{"x":0.054,"N80":-12.24},{"x":0.131,"N80":-12.77},{"x":0.208,"N80":-14.51},{"x":0.285,"N80":-13.44},{"x":0.363,"N80":-13.71},{"x":0.44,"N80":-14.11},{"x":0.517,"N80":-13.71},{"x":0.594,"N80":-14.24},{"x":0.671,"N80":-15.57},{"x":0.748,"N80":-13.71},{"x":0.826,"N80":-14.91},{"x":0.903,"N80":-13.31},{"x":0.98,"N80":-14.24},{"x":1.057,"N80":-13.57},{"x":1.134,"N80":-13.44},{"x":1.211,"N80":-14.11},{"x":1.327,"N80":-13.71},{"x":1.443,"N80":-13.84},{"x":1.559,"N80":-14.51},{"x":1.674,"N80":-14.11},{"x":1.79,"N80":-13.84},{"x":1.906,"N80":-13.44},{"x":1.983,"N80":-13.71},{"x":2.06,"N80":-13.44},{"x":2.176,"N80":-14.37},{"x":2.253,"N80":-13.44},{"x":2.33,"N80":-14.24},{"x":2.407,"N80":-13.57},{"x":2.485,"N80":-13.17},{"x":2.6,"N80":-12.51},{"x":2.677,"N80":-14.37},{"x":2.755,"N80":-13.31},{"x":2.832,"N80":-13.44},{"x":2.909,"N80":-13.04},{"x":2.986,"N80":-13.84},{"x":3.063,"N80":-13.57},{"x":3.117,"N80":-15.84},{"x":3.179,"N80":-13.04},{"x":3.256,"N80":-13.44},{"x":3.372,"N80":-13.04},{"x":3.488,"N80":-12.77},{"x":3.565,"N80":-13.57},{"x":3.642,"N80":-13.84},{"x":3.758,"N80":-13.44},{"x":3.835,"N80":-14.11},{"x":3.951,"N80":-13.31},{"x":4.066,"N80":-13.84},{"x":4.144,"N80":-13.71},{"x":4.259,"N80":-14.24},{"x":4.352,"N80":-15.84},{"x":4.414,"N80":-14.51},{"x":4.529,"N80":-14.37},{"x":4.606,"N80":-13.84},{"x":4.684,"N80":-13.44},{"x":4.761,"N80":-12.91},{"x":4.838,"N80":-13.71},{"x":4.915,"N80":-13.31},{"x":4.992,"N80":-13.57},{"x":5.07,"N80":-13.97},{"x":5.185,"N80":-13.57},{"x":5.262,"N80":-14.11},{"x":5.34,"N80":-13.44},{"x":5.455,"N80":-13.97},{"x":5.532,"N80":-13.71},{"x":5.61,"N80":-14.24},{"x":5.687,"N80":-14.37},{"x":5.764,"N80":-13.44},{"x":5.841,"N80":-13.57},{"x":5.918,"N80":-13.31},{"x":5.995,"N80":-12.77},{"x":6.073,"N80":-12.51},{"x":6.15,"N80":-11.97},{"x":6.204,"N80":-11.31},{"x":6.281,"N80":-11.71}
],
"minor":[{"x":0,"y":0}]
},
"vconcat":[
{"title":{"text":"ℙ³","orient":"left","angle":0,"font":"DejaVu Serif","fontSize":30,"offset":17,"anchor":"middle","dy":3},
 "spacing":30,
 "resolve":{"scale":{"color":"independent","strokeDash":"independent"},"legend":{"color":"independent","strokeDash":"independent"}},
 "hconcat":[
  {"title":"dG Error","width":273,"height":248,"layer":[
   {"data":{"name":"p1"},"transform":[{"fold":["N20","N40","N80"],"as":["s","y"]},{"filter":"isValid(datum.y)"}],
    "mark":{"type":"line","strokeWidth":1.4,"clip":true},
    "encoding":{
     "x":{"field":"x","type":"quantitative","scale":{"domain":[0,6.2832],"nice":false,"zero":false},"axis":{"orient":"bottom","values":[0,1,2,3,4,5,6],"title":"x"}},
     "y":{"field":"y","type":"quantitative","scale":{"domain":[-20,0],"nice":false},"axis":{"orient":"left","values":[0,-5,-10,-15,-20],"title":"log₁₀|error|","labelExpr":"'' + datum.value"}},
     "color":{"field":"s","type":"nominal","scale":{"domain":["N20","N40","N80"],"range":["#c42828","#2bc42b","#3939e3"]},"legend":{"orient":"none","legendX":196,"legendY":-25,"labelExpr":"replace(datum.label,'N','N = ')"}},
     "strokeDash":{"field":"s","type":"nominal","scale":{"domain":["N20","N40","N80"],"range":[[8,3,2,3],[9,6],[1,0]]},"legend":{"orient":"none","legendX":196,"legendY":-25,"labelExpr":"replace(datum.label,'N','N = ')"}}}},
   {"data":{"name":"minor"},"mark":{"type":"point","opacity":0},
    "encoding":{
     "x":{"field":"x","type":"quantitative","scale":{"domain":[0,6.2832],"nice":false,"zero":false},"axis":{"orient":"bottom","values":[0.2,0.4,0.6,0.8,1.2,1.4,1.6,1.8,2.2,2.4,2.6,2.8,3.2,3.4,3.6,3.8,4.2,4.4,4.6,4.8,5.2,5.4,5.6,5.8,6.2],"labels":false,"title":null,"domain":false,"tickSize":-3.5,"tickColor":"#999","tickWidth":1}},
     "y":{"field":"y","type":"quantitative","scale":{"domain":[-20,0],"nice":false},"axis":{"orient":"left","values":[-1,-2,-3,-4,-6,-7,-8,-9,-11,-12,-13,-14,-16,-17,-18,-19],"labels":false,"title":null,"domain":false,"tickSize":-3.5,"tickColor":"#999","tickWidth":1}}}}
  ],"resolve":{"axis":{"x":"independent","y":"independent"}}},
  {"title":"Post-processed (SRV)","width":272,"height":248,"layer":[
   {"data":{"name":"p2"},"transform":[{"fold":["N20","N40","N80"],"as":["s","y"]},{"filter":"isValid(datum.y)"}],
    "mark":{"type":"line","strokeWidth":1.4,"clip":true},
    "encoding":{
     "x":{"field":"x","type":"quantitative","scale":{"domain":[0,6.2832],"nice":false,"zero":false},"axis":{"orient":"bottom","values":[0,1,2,3,4,5,6],"title":"x"}},
     "y":{"field":"y","type":"quantitative","scale":{"domain":[-20,0],"nice":false},"axis":{"orient":"left","values":[0,-5,-10,-15,-20],"title":"log₁₀|error|","labelExpr":"'' + datum.value"}},
     "color":{"field":"s","type":"nominal","scale":{"domain":["N20","N40","N80"],"range":["#c42828","#2bc42b","#3939e3"]},"legend":{"orient":"none","legendX":196,"legendY":-25,"labelExpr":"replace(datum.label,'N','N = ')"}},
     "strokeDash":{"field":"s","type":"nominal","scale":{"domain":["N20","N40","N80"],"range":[[8,3,2,3],[9,6],[1,0]]},"legend":{"orient":"none","legendX":196,"legendY":-25,"labelExpr":"replace(datum.label,'N','N = ')"}}}},
   {"data":{"name":"minor"},"mark":{"type":"point","opacity":0},
    "encoding":{
     "x":{"field":"x","type":"quantitative","scale":{"domain":[0,6.2832],"nice":false,"zero":false},"axis":{"orient":"bottom","values":[0.2,0.4,0.6,0.8,1.2,1.4,1.6,1.8,2.2,2.4,2.6,2.8,3.2,3.4,3.6,3.8,4.2,4.4,4.6,4.8,5.2,5.4,5.6,5.8,6.2],"labels":false,"title":null,"domain":false,"tickSize":-3.5,"tickColor":"#999","tickWidth":1}},
     "y":{"field":"y","type":"quantitative","scale":{"domain":[-20,0],"nice":false},"axis":{"orient":"left","values":[-1,-2,-3,-4,-6,-7,-8,-9,-11,-12,-13,-14,-16,-17,-18,-19],"labels":false,"title":null,"domain":false,"tickSize":-3.5,"tickColor":"#999","tickWidth":1}}}}
  ],"resolve":{"axis":{"x":"independent","y":"independent"}}},
  {"title":"Post-processed (New)","width":272,"height":248,"layer":[
   {"data":{"name":"p3"},"transform":[{"fold":["N20","N40","N80"],"as":["s","y"]},{"filter":"isValid(datum.y)"}],
    "mark":{"type":"line","strokeWidth":1.4,"clip":true},
    "encoding":{
     "x":{"field":"x","type":"quantitative","scale":{"domain":[0,6.2832],"nice":false,"zero":false},"axis":{"orient":"bottom","values":[0,1,2,3,4,5,6],"title":"x"}},
     "y":{"field":"y","type":"quantitative","scale":{"domain":[-20,0],"nice":false},"axis":{"orient":"left","values":[0,-5,-10,-15,-20],"title":"log₁₀|error|","labelExpr":"'' + datum.value"}},
     "color":{"field":"s","type":"nominal","scale":{"domain":["N20","N40","N80"],"range":["#c42828","#2bc42b","#3939e3"]},"legend":{"orient":"none","legendX":196,"legendY":-25,"labelExpr":"replace(datum.label,'N','N = ')"}},
     "strokeDash":{"field":"s","type":"nominal","scale":{"domain":["N20","N40","N80"],"range":[[8,3,2,3],[9,6],[1,0]]},"legend":{"orient":"none","legendX":196,"legendY":-25,"labelExpr":"replace(datum.label,'N','N = ')"}}}},
   {"data":{"name":"minor"},"mark":{"type":"point","opacity":0},
    "encoding":{
     "x":{"field":"x","type":"quantitative","scale":{"domain":[0,6.2832],"nice":false,"zero":false},"axis":{"orient":"bottom","values":[0.2,0.4,0.6,0.8,1.2,1.4,1.6,1.8,2.2,2.4,2.6,2.8,3.2,3.4,3.6,3.8,4.2,4.4,4.6,4.8,5.2,5.4,5.6,5.8,6.2],"labels":false,"title":null,"domain":false,"tickSize":-3.5,"tickColor":"#999","tickWidth":1}},
     "y":{"field":"y","type":"quantitative","scale":{"domain":[-20,0],"nice":false},"axis":{"orient":"left","values":[-1,-2,-3,-4,-6,-7,-8,-9,-11,-12,-13,-14,-16,-17,-18,-19],"labels":false,"title":null,"domain":false,"tickSize":-3.5,"tickColor":"#999","tickWidth":1}}}}
  ],"resolve":{"axis":{"x":"independent","y":"independent"}}}
 ]},
{"title":{"text":"ℙ⁴","orient":"left","angle":0,"font":"DejaVu Serif","fontSize":30,"offset":17,"anchor":"middle","dy":-14},
 "spacing":30,
 "resolve":{"scale":{"color":"independent","strokeDash":"independent"},"legend":{"color":"independent","strokeDash":"independent"}},
 "hconcat":[
  {"width":273,"height":250,"layer":[
   {"data":{"name":"p4"},"transform":[{"fold":["N20","N40","N80"],"as":["s","y"]},{"filter":"isValid(datum.y)"}],
    "mark":{"type":"line","strokeWidth":1.4,"clip":true},
    "encoding":{
     "x":{"field":"x","type":"quantitative","scale":{"domain":[0,6.2832],"nice":false,"zero":false},"axis":{"orient":"bottom","values":[0,1,2,3,4,5,6],"title":"x"}},
     "y":{"field":"y","type":"quantitative","scale":{"domain":[-20,0],"nice":false},"axis":{"orient":"left","values":[0,-5,-10,-15,-20],"title":"log₁₀|error|","labelExpr":"'' + datum.value"}},
     "color":{"field":"s","type":"nominal","scale":{"domain":["N20","N40","N80"],"range":["#c42828","#2bc42b","#3939e3"]},"legend":{"orient":"none","legendX":196,"legendY":-25,"labelExpr":"replace(datum.label,'N','N = ')"}},
     "strokeDash":{"field":"s","type":"nominal","scale":{"domain":["N20","N40","N80"],"range":[[8,3,2,3],[9,6],[1,0]]},"legend":{"orient":"none","legendX":196,"legendY":-25,"labelExpr":"replace(datum.label,'N','N = ')"}}}},
   {"data":{"name":"minor"},"mark":{"type":"point","opacity":0},
    "encoding":{
     "x":{"field":"x","type":"quantitative","scale":{"domain":[0,6.2832],"nice":false,"zero":false},"axis":{"orient":"bottom","values":[0.2,0.4,0.6,0.8,1.2,1.4,1.6,1.8,2.2,2.4,2.6,2.8,3.2,3.4,3.6,3.8,4.2,4.4,4.6,4.8,5.2,5.4,5.6,5.8,6.2],"labels":false,"title":null,"domain":false,"tickSize":-3.5,"tickColor":"#999","tickWidth":1}},
     "y":{"field":"y","type":"quantitative","scale":{"domain":[-20,0],"nice":false},"axis":{"orient":"left","values":[-1,-2,-3,-4,-6,-7,-8,-9,-11,-12,-13,-14,-16,-17,-18,-19],"labels":false,"title":null,"domain":false,"tickSize":-3.5,"tickColor":"#999","tickWidth":1}}}}
  ],"resolve":{"axis":{"x":"independent","y":"independent"}}},
  {"width":272,"height":250,"layer":[
   {"data":{"name":"p5"},"transform":[{"fold":["N20","N40","N80"],"as":["s","y"]},{"filter":"isValid(datum.y)"}],
    "mark":{"type":"line","strokeWidth":1.4,"clip":true},
    "encoding":{
     "x":{"field":"x","type":"quantitative","scale":{"domain":[0,6.2832],"nice":false,"zero":false},"axis":{"orient":"bottom","values":[0,1,2,3,4,5,6],"title":"x"}},
     "y":{"field":"y","type":"quantitative","scale":{"domain":[-20,0],"nice":false},"axis":{"orient":"left","values":[0,-5,-10,-15,-20],"title":"log₁₀|error|","labelExpr":"'' + datum.value"}},
     "color":{"field":"s","type":"nominal","scale":{"domain":["N20","N40","N80"],"range":["#c42828","#2bc42b","#3939e3"]},"legend":{"orient":"none","legendX":196,"legendY":-25,"labelExpr":"replace(datum.label,'N','N = ')"}},
     "strokeDash":{"field":"s","type":"nominal","scale":{"domain":["N20","N40","N80"],"range":[[8,3,2,3],[9,6],[1,0]]},"legend":{"orient":"none","legendX":196,"legendY":-25,"labelExpr":"replace(datum.label,'N','N = ')"}}}},
   {"data":{"name":"minor"},"mark":{"type":"point","opacity":0},
    "encoding":{
     "x":{"field":"x","type":"quantitative","scale":{"domain":[0,6.2832],"nice":false,"zero":false},"axis":{"orient":"bottom","values":[0.2,0.4,0.6,0.8,1.2,1.4,1.6,1.8,2.2,2.4,2.6,2.8,3.2,3.4,3.6,3.8,4.2,4.4,4.6,4.8,5.2,5.4,5.6,5.8,6.2],"labels":false,"title":null,"domain":false,"tickSize":-3.5,"tickColor":"#999","tickWidth":1}},
     "y":{"field":"y","type":"quantitative","scale":{"domain":[-20,0],"nice":false},"axis":{"orient":"left","values":[-1,-2,-3,-4,-6,-7,-8,-9,-11,-12,-13,-14,-16,-17,-18,-19],"labels":false,"title":null,"domain":false,"tickSize":-3.5,"tickColor":"#999","tickWidth":1}}}}
  ],"resolve":{"axis":{"x":"independent","y":"independent"}}},
  {"width":272,"height":250,"layer":[
   {"data":{"name":"p6"},"transform":[{"fold":["N20","N40","N80"],"as":["s","y"]},{"filter":"isValid(datum.y)"}],
    "mark":{"type":"line","strokeWidth":1.4,"clip":true},
    "encoding":{
     "x":{"field":"x","type":"quantitative","scale":{"domain":[0,6.2832],"nice":false,"zero":false},"axis":{"orient":"bottom","values":[0,1,2,3,4,5,6],"title":"x"}},
     "y":{"field":"y","type":"quantitative","scale":{"domain":[-20,0],"nice":false},"axis":{"orient":"left","values":[0,-5,-10,-15,-20],"title":"log₁₀|error|","labelExpr":"'' + datum.value"}},
     "color":{"field":"s","type":"nominal","scale":{"domain":["N20","N40","N80"],"range":["#c42828","#2bc42b","#3939e3"]},"legend":{"orient":"none","legendX":196,"legendY":-25,"labelExpr":"replace(datum.label,'N','N = ')"}},
     "strokeDash":{"field":"s","type":"nominal","scale":{"domain":["N20","N40","N80"],"range":[[8,3,2,3],[9,6],[1,0]]},"legend":{"orient":"none","legendX":196,"legendY":-25,"labelExpr":"replace(datum.label,'N','N = ')"}}}},
   {"data":{"name":"minor"},"mark":{"type":"point","opacity":0},
    "encoding":{
     "x":{"field":"x","type":"quantitative","scale":{"domain":[0,6.2832],"nice":false,"zero":false},"axis":{"orient":"bottom","values":[0.2,0.4,0.6,0.8,1.2,1.4,1.6,1.8,2.2,2.4,2.6,2.8,3.2,3.4,3.6,3.8,4.2,4.4,4.6,4.8,5.2,5.4,5.6,5.8,6.2],"labels":false,"title":null,"domain":false,"tickSize":-3.5,"tickColor":"#999","tickWidth":1}},
     "y":{"field":"y","type":"quantitative","scale":{"domain":[-20,0],"nice":false},"axis":{"orient":"left","values":[-1,-2,-3,-4,-6,-7,-8,-9,-11,-12,-13,-14,-16,-17,-18,-19],"labels":false,"title":null,"domain":false,"tickSize":-3.5,"tickColor":"#999","tickWidth":1}}}}
  ],"resolve":{"axis":{"x":"independent","y":"independent"}}}
 ]}
],
"spacing":27
}
